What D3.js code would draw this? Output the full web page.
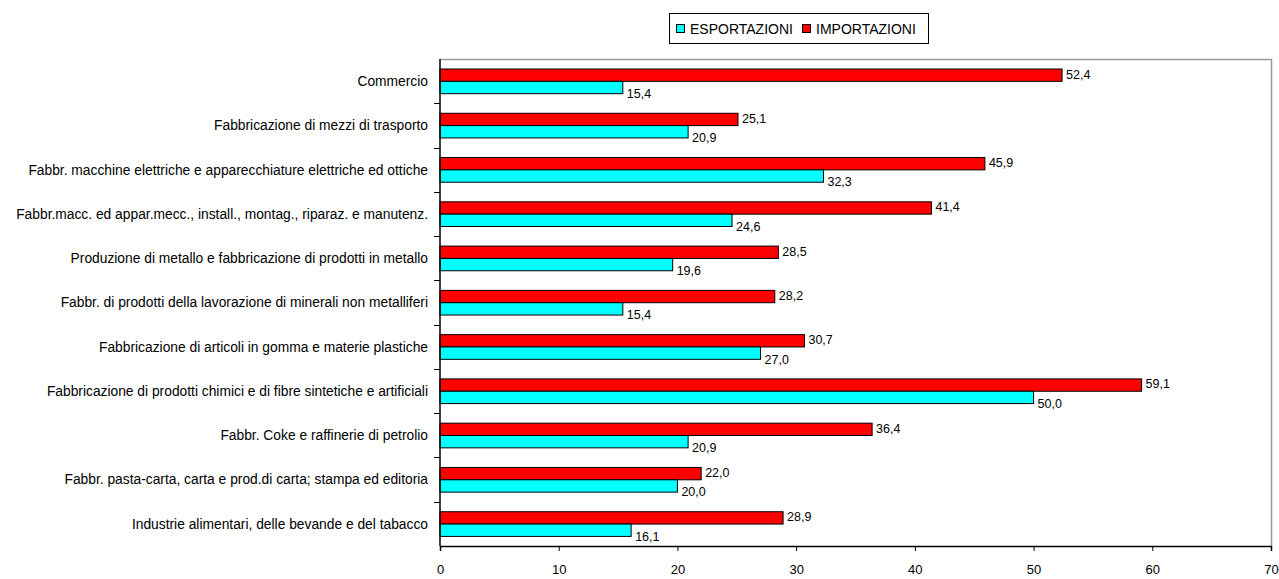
<!DOCTYPE html>
<html>
<head>
<meta charset="utf-8">
<script src="https://cdn.jsdelivr.net/npm/d3@7"></script>
<style>
  body { margin: 0; background: #fff; }
  svg text { font-family: "Liberation Sans", Arial, sans-serif; fill: #000; }
</style>
</head>
<body>
<div id="chart"></div>
<script>
/* categorie, dall'alto verso il basso */
const categories = [
  'Commercio',
  'Fabbricazione di mezzi di trasporto',
  'Fabbr. macchine elettriche e apparecchiature elettriche ed ottiche',
  'Fabbr.macc. ed appar.mecc., install., montag., riparaz. e manutenz.',
  'Produzione di metallo e fabbricazione di prodotti in metallo',
  'Fabbr. di prodotti della lavorazione di minerali non metalliferi',
  'Fabbricazione di articoli in gomma e materie plastiche',
  'Fabbricazione di prodotti chimici e di fibre sintetiche e artificiali',
  'Fabbr. Coke e raffinerie di petrolio ',
  'Fabbr. pasta-carta, carta e prod.di carta; stampa ed editoria',
  'Industrie alimentari, delle bevande e del tabacco'
];
const importazioni = [52.4, 25.1, 45.9, 41.4, 28.5, 28.2, 30.7, 59.1, 36.4, 22.0, 28.9];
const esportazioni = [15.4, 20.9, 32.3, 24.6, 19.6, 15.4, 27.0, 50.0, 20.9, 20.0, 16.1];
const xTicks = [0, 10, 20, 30, 40, 50, 60, 70];

const series = [
  { key: 'IMPORTAZIONI', values: importazioni, color: '#ff0000' },
  { key: 'ESPORTAZIONI', values: esportazioni, color: '#00ffff' }
];

const width = 1279, height = 579;
const plotLeft = 440, plotRight = 1271, plotTop = 59, plotBottom = 546;
const fmt = v => v.toFixed(1).replace('.', ',');

const svg = d3.select('#chart').append('svg')
  .attr('width', width).attr('height', height);

const x = d3.scaleLinear().domain([0, 70]).range([plotLeft, plotRight]);
const y = d3.scaleBand().domain(categories).range([plotTop, plotBottom]);
// le due barre occupano la parte centrale della banda
const sub = d3.scaleBand().domain(['IMPORTAZIONI', 'ESPORTAZIONI'])
  .range([10, y.bandwidth() - 9.6]);

// bordo area del grafico (grigio sopra e a destra)
svg.append('path')
  .attr('d', `M${plotLeft},${plotTop + 0.5}H${plotRight + 0.5}V${plotBottom}`)
  .attr('fill', 'none').attr('stroke', '#9a9a9a').attr('stroke-width', 1.5);

// barre
series.forEach(s => {
  svg.append('g').selectAll('rect')
    .data(s.values)
    .enter().append('rect')
    .attr('x', x(0))
    .attr('y', (d, i) => y(categories[i]) + sub(s.key))
    .attr('width', d => x(d) - x(0))
    .attr('height', sub.bandwidth())
    .attr('fill', s.color)
    .attr('stroke', '#000')
    .attr('stroke-width', 1);

  svg.append('g').selectAll('text')
    .data(s.values)
    .enter().append('text')
    .attr('x', d => x(d) + 4)
    .attr('y', (d, i) => y(categories[i]) + sub(s.key) + sub.bandwidth() / 2 + (s.key === 'ESPORTAZIONI' ? 6 : -1))
    .attr('dy', '0.35em')
    .attr('font-size', 12.5)
    .text(d => fmt(d));
});

// asse x
const xAxis = svg.append('g')
  .attr('transform', `translate(0,${plotBottom})`)
  .call(d3.axisBottom(x).tickValues(xTicks).tickSize(5).tickPadding(14).tickFormat(d3.format('d')));
xAxis.select('.domain').attr('stroke', '#000').attr('stroke-width', 1.5);
xAxis.selectAll('.tick line').attr('stroke', '#000');
xAxis.selectAll('.tick text').attr('font-size', 13).attr('font-family', null);

// asse y: tacche fra le categorie
const yAxis = svg.append('g').attr('transform', `translate(${plotLeft},0)`);
yAxis.append('line')
  .attr('x1', 0).attr('x2', 0).attr('y1', plotTop).attr('y2', plotBottom)
  .attr('stroke', '#000').attr('stroke-width', 1.5);
yAxis.selectAll('.sep')
  .data(categories.slice(1))
  .enter().append('line')
  .attr('x1', -6).attr('x2', 0)
  .attr('y1', d => Math.round(y(d)) + 0.5).attr('y2', d => Math.round(y(d)) + 0.5)
  .attr('stroke', '#000');
yAxis.selectAll('.cat')
  .data(categories)
  .enter().append('text')
  .attr('x', -12)
  .attr('y', d => y(d) + y.bandwidth() / 2)
  .attr('dy', '0.35em')
  .attr('text-anchor', 'end')
  .attr('font-size', 13.8)
  .text(d => d);

// legenda
const legend = svg.append('g');
legend.append('rect')
  .attr('x', 669.5).attr('y', 13.5).attr('width', 259).attr('height', 30)
  .attr('fill', '#fff').attr('stroke', '#000');
const legendItems = [series[1], series[0]];
const legendX = [676, 802];
legendItems.forEach((s, i) => {
  legend.append('rect')
    .attr('x', legendX[i] + 0.5).attr('y', 24.5).attr('width', 8).attr('height', 8)
    .attr('fill', s.color).attr('stroke', '#000');
  legend.append('text')
    .attr('x', legendX[i] + 14).attr('y', 29)
    .attr('dy', '0.35em')
    .attr('font-size', 14)
    .text(s.key);
});
</script>
</body>
</html>
